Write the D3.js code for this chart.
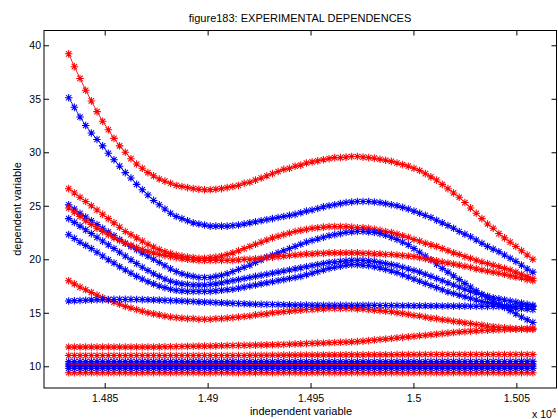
<!DOCTYPE html>
<html>
<head>
<meta charset="utf-8">
<script src="https://cdn.jsdelivr.net/npm/d3@7"></script>
<style>
body { margin: 0; background: #fff; }
text { font-family: "Liberation Sans", Arial, sans-serif; fill: #000; }
</style>
</head>
<body>
<svg id="chart" width="558" height="419"></svg>
<script>
// figure183 - experimental dependences
let titleText = "figure183: EXPERIMENTAL DEPENDENCES";
let xLabel = "independent variable";
let yLabel = "dependent variable";
let xTicks = [14850, 14900, 14950, 15000, 15050];
let xTickLabels = ["1.485", "1.49", "1.495", "1.5", "1.505"];
let yTicks = [10, 15, 20, 25, 30, 35, 40];

// sampling of the independent variable
let xStart = 14832.5;
let xStep = 2.75;

let red1 = [39.2, 38.0, 36.9, 35.8, 34.8, 33.8, 32.9, 32.1, 31.3, 30.6,
    30.0, 29.4, 28.9, 28.5, 28.1, 27.8, 27.5, 27.3, 27.1, 26.9,
    26.8, 26.7, 26.6, 26.55, 26.5, 26.5, 26.55, 26.6, 26.7, 26.8,
    26.9, 27.1, 27.2, 27.4, 27.6, 27.8, 28.0, 28.2, 28.4, 28.5,
    28.7, 28.8, 29.0, 29.1, 29.2, 29.3, 29.4, 29.5, 29.5, 29.55,
    29.6, 29.6, 29.55, 29.5, 29.45, 29.35, 29.25, 29.15, 29.0, 28.85,
    28.7, 28.5, 28.3, 28.0, 27.7, 27.4, 27.0, 26.6, 26.2, 25.8,
    25.3, 24.8, 24.3, 23.8, 23.3, 22.9, 22.4, 22.0, 21.6, 21.2,
    20.8, 20.4, 20.0];

let blue1 = [35.1, 34.2, 33.3, 32.5, 31.8, 31.2, 30.6, 29.9, 29.3, 28.7,
    28.1, 27.6, 27.0, 26.5, 26.0, 25.5, 25.1, 24.7, 24.3, 24.0,
    23.8, 23.6, 23.4, 23.3, 23.2, 23.1, 23.1, 23.1, 23.1, 23.15,
    23.2, 23.3, 23.4, 23.5, 23.6, 23.7, 23.8, 23.9, 24.0, 24.1,
    24.2, 24.35, 24.5, 24.6, 24.75, 24.9, 25.0, 25.1, 25.2, 25.3,
    25.35, 25.4, 25.4, 25.4, 25.35, 25.3, 25.2, 25.1, 25.0, 24.85,
    24.7, 24.5, 24.3, 24.1, 23.9, 23.65, 23.4, 23.15, 22.9, 22.6,
    22.35, 22.1, 21.8, 21.5, 21.2, 20.95, 20.7, 20.4, 20.1, 19.8,
    19.45, 19.1, 18.8];

let red2 = [26.6, 26.2, 25.8, 25.4, 25.0, 24.6, 24.2, 23.8, 23.4, 23.0,
    22.6, 22.3, 22.0, 21.7, 21.4, 21.15, 20.9, 20.7, 20.55, 20.4,
    20.3, 20.2, 20.15, 20.1, 20.1, 20.15, 20.2, 20.3, 20.45, 20.6,
    20.8, 21.0, 21.2, 21.4, 21.6, 21.8, 22.0, 22.15, 22.3, 22.45,
    22.6, 22.7, 22.8, 22.9, 22.95, 23.0, 23.05, 23.05, 23.05, 23.05,
    23.0, 22.95, 22.95, 22.9, 22.8, 22.7, 22.6, 22.5, 22.35, 22.2,
    22.05, 21.85, 21.7, 21.5, 21.35, 21.2, 21.0, 20.8, 20.6, 20.45,
    20.25, 20.1, 19.9, 19.75, 19.6, 19.45, 19.3, 19.15, 19.0, 18.8,
    18.6, 18.4, 18.2];

let blue2 = [25.1, 24.7, 24.3, 23.95, 23.6, 23.25, 22.9, 22.55, 22.2, 21.85,
    21.5, 21.2, 20.9, 20.6, 20.3, 20.0, 19.7, 19.4, 19.1, 18.85,
    18.65, 18.5, 18.4, 18.3, 18.3, 18.3, 18.4, 18.5, 18.65, 18.85,
    19.05, 19.25, 19.45, 19.7, 19.95, 20.2, 20.4, 20.6, 20.8, 21.0,
    21.2, 21.4, 21.6, 21.75, 21.9, 22.05, 22.2, 22.3, 22.4, 22.5,
    22.55, 22.6, 22.6, 22.55, 22.5, 22.4, 22.25, 22.05, 21.85, 21.6,
    21.35, 21.0, 20.65, 20.3, 19.95, 19.55, 19.15, 18.8, 18.45, 18.1,
    17.75, 17.4, 17.05, 16.7, 16.4, 16.1, 15.8, 15.5, 15.2, 14.9,
    14.6, 14.35, 14.1];

let red3 = [24.8, 24.4, 24.0, 23.6, 23.25, 22.9, 22.6, 22.3, 22.0, 21.75,
    21.5, 21.3, 21.1, 20.9, 20.75, 20.6, 20.45, 20.35, 20.25, 20.15,
    20.05, 20.0, 19.95, 19.9, 19.9, 19.9, 19.9, 19.9, 19.9, 19.9,
    19.95, 20.0, 20.0, 20.05, 20.1, 20.15, 20.2, 20.25, 20.3, 20.35,
    20.4, 20.45, 20.5, 20.5, 20.55, 20.55, 20.6, 20.6, 20.6, 20.6,
    20.6, 20.6, 20.55, 20.55, 20.5, 20.5, 20.45, 20.45, 20.4, 20.35,
    20.3, 20.25, 20.15, 20.05, 19.95, 19.85, 19.75, 19.65, 19.55, 19.45,
    19.35, 19.25, 19.1, 19.0, 18.9, 18.8, 18.7, 18.6, 18.45, 18.35,
    18.25, 18.1, 18.0];

let blue3 = [23.8, 23.45, 23.1, 22.75, 22.4, 22.05, 21.7, 21.35, 21.0, 20.65,
    20.3, 19.95, 19.6, 19.25, 18.95, 18.65, 18.4, 18.15, 17.95, 17.8,
    17.7, 17.65, 17.6, 17.6, 17.6, 17.65, 17.7, 17.8, 17.9, 18.0,
    18.1, 18.2, 18.3, 18.4, 18.5, 18.6, 18.7, 18.8, 18.9, 19.0,
    19.1, 19.2, 19.3, 19.4, 19.5, 19.6, 19.7, 19.75, 19.8, 19.85,
    19.9, 19.9, 19.9, 19.85, 19.8, 19.7, 19.6, 19.5, 19.4, 19.25,
    19.1, 18.95, 18.8, 18.6, 18.4, 18.2, 18.0, 17.8, 17.6, 17.4,
    17.2, 17.0, 16.85, 16.7, 16.55, 16.4, 16.3, 16.2, 16.1, 16.0,
    15.9, 15.8, 15.7];

let blue4 = [22.3, 21.95, 21.6, 21.3, 21.0, 20.65, 20.3, 19.95, 19.65, 19.3,
    19.0, 18.7, 18.4, 18.15, 17.9, 17.7, 17.5, 17.35, 17.2, 17.1,
    17.05, 17.0, 17.0, 17.0, 17.0, 17.0, 17.05, 17.1, 17.15, 17.2,
    17.3, 17.4, 17.5, 17.6, 17.7, 17.8, 17.9, 18.0, 18.1, 18.2,
    18.3, 18.4, 18.55, 18.7, 18.85, 19.0, 19.15, 19.25, 19.35, 19.45,
    19.5, 19.5, 19.45, 19.4, 19.3, 19.2, 19.05, 18.9, 18.75, 18.55,
    18.35, 18.15, 17.95, 17.75, 17.55, 17.35, 17.15, 16.95, 16.8, 16.65,
    16.5, 16.35, 16.2, 16.05, 15.95, 15.85, 15.75, 15.65, 15.55, 15.45,
    15.4, 15.35, 15.3];

let red4 = [18.0, 17.7, 17.4, 17.15, 16.9, 16.65, 16.4, 16.2, 16.0, 15.8,
    15.6, 15.45, 15.3, 15.15, 15.0, 14.9, 14.8, 14.7, 14.6, 14.55,
    14.5, 14.45, 14.45, 14.4, 14.4, 14.4, 14.45, 14.45, 14.5, 14.55,
    14.6, 14.65, 14.7, 14.8, 14.85, 14.9, 15.0, 15.05, 15.1, 15.15,
    15.2, 15.25, 15.3, 15.3, 15.35, 15.35, 15.4, 15.4, 15.4, 15.4,
    15.4, 15.35, 15.35, 15.3, 15.25, 15.2, 15.15, 15.1, 15.0, 14.95,
    14.85, 14.75, 14.7, 14.6, 14.5, 14.45, 14.35, 14.3, 14.2, 14.15,
    14.05, 14.0, 13.9, 13.85, 13.75, 13.7, 13.65, 13.6, 13.55, 13.5,
    13.5, 13.45, 13.45];

let blue5 = [16.1, 16.12, 16.15, 16.17, 16.2, 16.22, 16.23, 16.24, 16.25, 16.25,
    16.25, 16.25, 16.24, 16.23, 16.22, 16.2, 16.18, 16.16, 16.14, 16.12,
    16.1, 16.07, 16.05, 16.02, 16.0, 15.98, 15.95, 15.93, 15.9, 15.88,
    15.86, 15.84, 15.82, 15.8, 15.79, 15.78, 15.77, 15.76, 15.75, 15.74,
    15.73, 15.72, 15.72, 15.71, 15.71, 15.7, 15.7, 15.7, 15.7, 15.7,
    15.7, 15.7, 15.7, 15.69, 15.69, 15.68, 15.68, 15.67, 15.67, 15.66,
    15.66, 15.65, 15.65, 15.65, 15.64, 15.64, 15.63, 15.63, 15.62, 15.62,
    15.62, 15.61, 15.61, 15.6, 15.6, 15.6, 15.6, 15.6, 15.6, 15.6,
    15.6, 15.6, 15.6];

let red5 = [11.8, 11.8, 11.8, 11.8, 11.8, 11.8, 11.8, 11.8, 11.8, 11.8,
    11.8, 11.8, 11.8, 11.8, 11.8, 11.8, 11.81, 11.82, 11.83, 11.84,
    11.85, 11.86, 11.87, 11.88, 11.89, 11.9, 11.91, 11.92, 11.93, 11.94,
    11.95, 11.96, 11.97, 11.98, 11.99, 12.0, 12.01, 12.02, 12.04, 12.06,
    12.08, 12.1, 12.12, 12.14, 12.16, 12.18, 12.2, 12.22, 12.24, 12.26,
    12.28, 12.3, 12.35, 12.4, 12.45, 12.5, 12.55, 12.6, 12.65, 12.7,
    12.75, 12.8, 12.85, 12.9, 12.95, 13.0, 13.05, 13.1, 13.15, 13.2,
    13.24, 13.28, 13.31, 13.34, 13.37, 13.4, 13.42, 13.44, 13.46, 13.48,
    13.5, 13.52, 13.55];

let red6 = [11.0, 11.0, 11.0, 11.0, 11.0, 11.0, 11.0, 11.0, 11.0, 11.0,
    11.0, 11.0, 11.0, 11.0, 11.0, 11.0, 11.0, 11.0, 11.0, 11.0,
    11.0, 11.0, 11.0, 11.0, 11.0, 11.0, 11.0, 11.0, 11.0, 11.0,
    11.01, 11.01, 11.02, 11.02, 11.02, 11.03, 11.03, 11.03, 11.04, 11.04,
    11.04, 11.05, 11.05, 11.05, 11.05, 11.06, 11.06, 11.06, 11.06, 11.07,
    11.07, 11.07, 11.07, 11.08, 11.08, 11.08, 11.08, 11.08, 11.09, 11.09,
    11.09, 11.09, 11.09, 11.1, 11.1, 11.1, 11.1, 11.1, 11.1, 11.1,
    11.1, 11.1, 11.1, 11.1, 11.1, 11.1, 11.1, 11.1, 11.1, 11.1,
    11.1, 11.1, 11.1];

let red7 = [9.4, 9.4, 9.4, 9.4, 9.4, 9.4, 9.4, 9.4, 9.4, 9.4,
    9.4, 9.4, 9.4, 9.4, 9.4, 9.4, 9.4, 9.4, 9.4, 9.4,
    9.4, 9.4, 9.4, 9.4, 9.4, 9.4, 9.4, 9.4, 9.4, 9.4,
    9.4, 9.4, 9.4, 9.4, 9.4, 9.4, 9.4, 9.4, 9.4, 9.4,
    9.4, 9.4, 9.4, 9.4, 9.4, 9.4, 9.4, 9.4, 9.4, 9.4,
    9.4, 9.4, 9.4, 9.4, 9.4, 9.4, 9.4, 9.4, 9.4, 9.4,
    9.4, 9.4, 9.4, 9.4, 9.4, 9.4, 9.4, 9.4, 9.4, 9.4,
    9.4, 9.4, 9.4, 9.4, 9.4, 9.4, 9.4, 9.4, 9.4, 9.4,
    9.4, 9.4, 9.4];

let blue6 = [10.42, 10.42, 10.42, 10.42, 10.42, 10.42, 10.42, 10.42, 10.42, 10.42,
    10.42, 10.42, 10.42, 10.42, 10.42, 10.42, 10.42, 10.42, 10.42, 10.42,
    10.42, 10.42, 10.42, 10.42, 10.42, 10.42, 10.42, 10.42, 10.42, 10.42,
    10.42, 10.42, 10.42, 10.42, 10.42, 10.42, 10.42, 10.42, 10.42, 10.42,
    10.42, 10.42, 10.42, 10.42, 10.42, 10.42, 10.42, 10.42, 10.42, 10.42,
    10.42, 10.42, 10.42, 10.42, 10.42, 10.42, 10.42, 10.42, 10.42, 10.42,
    10.42, 10.42, 10.42, 10.43, 10.43, 10.43, 10.43, 10.43, 10.43, 10.43,
    10.44, 10.44, 10.44, 10.44, 10.44, 10.45, 10.45, 10.45, 10.45, 10.45,
    10.46, 10.46, 10.46];

let blue7 = [10.22, 10.22, 10.22, 10.22, 10.22, 10.22, 10.22, 10.22, 10.22, 10.22,
    10.22, 10.22, 10.22, 10.22, 10.22, 10.22, 10.22, 10.22, 10.22, 10.22,
    10.22, 10.22, 10.22, 10.22, 10.22, 10.22, 10.22, 10.22, 10.22, 10.22,
    10.22, 10.22, 10.22, 10.22, 10.22, 10.22, 10.22, 10.22, 10.22, 10.22,
    10.22, 10.22, 10.22, 10.22, 10.22, 10.22, 10.22, 10.22, 10.22, 10.22,
    10.22, 10.22, 10.22, 10.22, 10.22, 10.22, 10.22, 10.22, 10.22, 10.22,
    10.22, 10.22, 10.22, 10.22, 10.22, 10.22, 10.22, 10.22, 10.22, 10.22,
    10.22, 10.22, 10.22, 10.22, 10.22, 10.22, 10.22, 10.22, 10.22, 10.22,
    10.22, 10.22, 10.22];

let blue8 = [10.02, 10.02, 10.02, 10.02, 10.02, 10.02, 10.02, 10.02, 10.02, 10.02,
    10.02, 10.02, 10.02, 10.02, 10.02, 10.02, 10.02, 10.02, 10.02, 10.02,
    10.02, 10.02, 10.02, 10.02, 10.02, 10.02, 10.02, 10.02, 10.02, 10.02,
    10.02, 10.02, 10.02, 10.02, 10.02, 10.02, 10.02, 10.02, 10.02, 10.02,
    10.02, 10.02, 10.02, 10.02, 10.02, 10.02, 10.02, 10.02, 10.02, 10.02,
    10.02, 10.02, 10.02, 10.02, 10.02, 10.02, 10.02, 10.02, 10.02, 10.02,
    10.02, 10.02, 10.02, 10.02, 10.02, 10.02, 10.02, 10.02, 10.02, 10.02,
    10.02, 10.02, 10.02, 10.02, 10.02, 10.02, 10.02, 10.02, 10.02, 10.02,
    10.02, 10.02, 10.02];

let blue9 = [9.82, 9.82, 9.82, 9.82, 9.82, 9.82, 9.82, 9.82, 9.82, 9.82,
    9.82, 9.82, 9.82, 9.82, 9.82, 9.82, 9.82, 9.82, 9.82, 9.82,
    9.82, 9.82, 9.82, 9.82, 9.82, 9.82, 9.82, 9.82, 9.82, 9.82,
    9.82, 9.82, 9.82, 9.82, 9.82, 9.82, 9.82, 9.82, 9.82, 9.82,
    9.82, 9.82, 9.82, 9.82, 9.82, 9.82, 9.82, 9.82, 9.82, 9.82,
    9.82, 9.82, 9.82, 9.82, 9.82, 9.82, 9.82, 9.82, 9.82, 9.82,
    9.82, 9.82, 9.82, 9.82, 9.82, 9.82, 9.82, 9.82, 9.82, 9.82,
    9.82, 9.82, 9.82, 9.82, 9.82, 9.82, 9.82, 9.82, 9.82, 9.82,
    9.82, 9.82, 9.82];

// thin red line through the bottom band (no markers)
let redLine = [10.2, 10.2, 10.2, 10.2, 10.2, 10.2, 10.2, 10.2, 10.2, 10.2,
    10.2, 10.2, 10.2, 10.2, 10.2, 10.2, 10.2, 10.2, 10.2, 10.2,
    10.19, 10.19, 10.19, 10.19, 10.19, 10.19, 10.19, 10.19, 10.19, 10.19,
    10.18, 10.18, 10.18, 10.18, 10.18, 10.18, 10.18, 10.18, 10.18, 10.18,
    10.17, 10.17, 10.17, 10.17, 10.17, 10.17, 10.17, 10.17, 10.17, 10.17,
    10.16, 10.16, 10.16, 10.16, 10.16, 10.16, 10.16, 10.16, 10.16, 10.16,
    10.15, 10.15, 10.15, 10.15, 10.15, 10.15, 10.15, 10.15, 10.15, 10.15,
    10.14, 10.14, 10.14, 10.14, 10.14, 10.14, 10.14, 10.14, 10.14, 10.14,
    10.13, 10.13, 10.13];

let series = [
    {values: red1, color: "#ff0000"},
    {values: blue1, color: "#0000ff"},
    {values: red2, color: "#ff0000"},
    {values: blue2, color: "#0000ff"},
    {values: red3, color: "#ff0000"},
    {values: blue3, color: "#0000ff"},
    {values: blue4, color: "#0000ff"},
    {values: red4, color: "#ff0000"},
    {values: blue5, color: "#0000ff"},
    {values: red5, color: "#ff0000"},
    {values: red6, color: "#ff0000"},
    {values: red7, color: "#ff0000"},
    {values: blue6, color: "#0000ff"},
    {values: blue7, color: "#0000ff"},
    {values: blue8, color: "#0000ff"},
    {values: blue9, color: "#0000ff"}
];

let box = {left: 44, top: 30.5, right: 556.5, bottom: 388};

let svg = d3.select("#chart");

let x = d3.scaleLinear()
    .domain([14820.5, 15069.5])
    .range([box.left, box.right]);
let y = d3.scaleLinear()
    .domain([7.97, 41.38])
    .range([box.bottom, box.top]);

let xAt = (i) => xStart + i * xStep;

// star marker like matlab '*'
let star = "M-3.8,0H3.8M0,-3.8V3.8M-2.7,-2.7L2.7,2.7M-2.7,2.7L2.7,-2.7";

let line = d3.line()
    .x((d, i) => x(xAt(i)))
    .y((d) => y(d));

let plot = svg.append("g");

series.forEach((s) => {
    let g = plot.append("g");
    g.append("path")
        .attr("d", line(s.values))
        .attr("fill", "none")
        .attr("stroke", s.color)
        .attr("stroke-width", 0.9);
    g.selectAll("path.m")
        .data(s.values)
        .enter()
        .append("path")
        .attr("class", "m")
        .attr("transform", (d, i) => "translate(" + x(xAt(i)) + "," + y(d) + ")")
        .attr("d", star)
        .attr("fill", "none")
        .attr("stroke", s.color)
        .attr("stroke-width", 1.05);
});

plot.append("path")
    .attr("d", line(redLine))
    .attr("fill", "none")
    .attr("stroke", "#ff0000")
    .attr("stroke-width", 1);

// axes
let fontSize = 10.5;
let xAxis = d3.axisBottom(x)
    .tickValues(xTicks)
    .tickFormat((d, i) => xTickLabels[i])
    .tickSizeInner(-5)
    .tickSizeOuter(0)
    .tickPadding(6.5);
let yAxis = d3.axisLeft(y)
    .tickValues(yTicks)
    .tickSizeInner(-5)
    .tickSizeOuter(0)
    .tickPadding(3);

svg.append("g")
    .attr("transform", "translate(0," + box.bottom + ")")
    .call(xAxis);
svg.append("g")
    .attr("transform", "translate(" + box.left + ",0)")
    .call(yAxis);
svg.append("g")
    .attr("transform", "translate(0," + box.top + ")")
    .call(d3.axisTop(x).tickValues(xTicks).tickFormat("").tickSizeInner(-5).tickSizeOuter(0));
svg.append("g")
    .attr("transform", "translate(" + box.right + ",0)")
    .call(d3.axisRight(y).tickValues(yTicks).tickFormat("").tickSizeInner(-5).tickSizeOuter(0));

svg.selectAll(".domain").remove();
svg.selectAll(".tick line").attr("stroke", "#000");
svg.selectAll(".tick text")
    .style("font-family", "'Liberation Sans', Arial, sans-serif")
    .style("font-size", fontSize + "px")
    .attr("fill", "#000");

svg.append("rect")
    .attr("x", box.left)
    .attr("y", box.top)
    .attr("width", box.right - box.left)
    .attr("height", box.bottom - box.top)
    .attr("fill", "none")
    .attr("stroke", "#000")
    .attr("stroke-width", 1);

svg.append("text")
    .attr("x", 300)
    .attr("y", 21.5)
    .attr("text-anchor", "middle")
    .style("font-size", "11px")
    .text(titleText);

svg.append("text")
    .attr("x", 301)
    .attr("y", 415)
    .attr("text-anchor", "middle")
    .style("font-size", "11px")
    .text(xLabel);

svg.append("text")
    .attr("transform", "translate(17.5,209) rotate(-90)")
    .attr("dy", "0.35em")
    .attr("text-anchor", "middle")
    .style("font-size", "11px")
    .text(yLabel);

let mult = svg.append("text")
    .attr("x", 532)
    .attr("y", 417.5)
    .style("font-size", "10.5px");
mult.append("tspan").text("x 10");
mult.append("tspan")
    .attr("dy", -5)
    .style("font-size", "8px")
    .text("4");
</script>
</body>
</html>
